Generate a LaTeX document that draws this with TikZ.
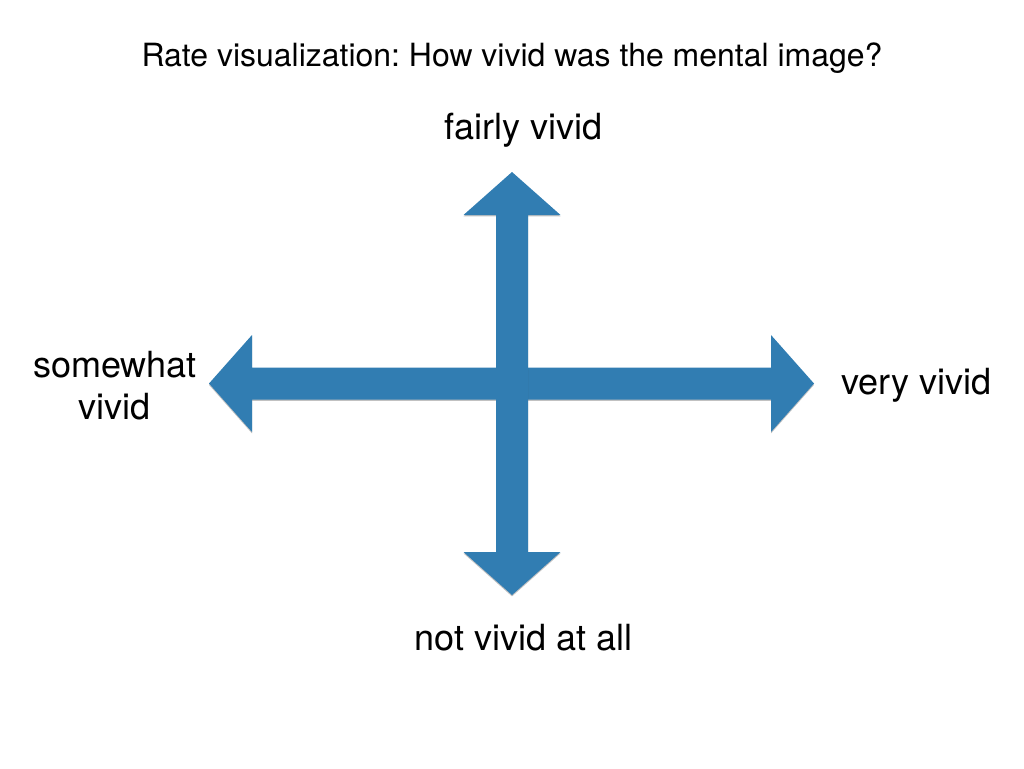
\documentclass[tikz,border=0pt]{standalone}
\usepackage{fontspec}
\setmainfont{TeX Gyre Heros}
\frenchspacing
\usetikzlibrary{shadows,calc}
\definecolor{vividblue}{RGB}{49,125,178}
\tikzset{
  arrowbody/.style={fill=vividblue,draw=none,
    drop shadow={shadow xshift=0pt,shadow yshift=-0.8pt,opacity=0.35,fill=black!70}},
  scalelabel/.style={font=\fontsize{20.5}{23.8}\selectfont,inner sep=0pt,align=center},
  titlelabel/.style={font=\fontsize{18.2}{21}\selectfont,inner sep=0pt}
}
\begin{document}
\begin{tikzpicture}[x=0.02cm,y=-0.02cm]
	\def\cx{512}   % centre of the cross
	\def\cy{383.5}
	\def\sw{16}    % half width of the shaft
	\def\hw{48.5}  % half width of the head
	\def\hl{43}    % length of the head
	\useasboundingbox (0,0) rectangle (1024,768);
	% ends of the two arrows
	\coordinate (left) at (209,\cy);
	\coordinate (right) at (814,\cy);
	\coordinate (top) at (\cx,172);
	\coordinate (bottom) at (\cx,595);
	% horizontal arrow
	\fill[arrowbody] (left) -- ++(\hl,-\hw) -- ++(0,\hw-\sw) -| ($(right)+(-\hl,-\hw)$) -- (right) -- ++(-\hl,\hw) -- ++(0,-\hw+\sw) -| ($(left)+(\hl,\hw)$) -- cycle;
	% vertical arrow
	\fill[arrowbody] (top) -- ++(\hw,\hl) -- ++(-\hw+\sw,0) |- ($(bottom)+(\hw,-\hl)$) -- (bottom) -- ++(-\hw,-\hl) -- ++(\hw-\sw,0) |- ($(top)+(-\hw,\hl)$) -- cycle;
	% labels
	\node[titlelabel] (title) at (512,58) {Rate visualization: How vivid was the mental image?};
	\node[scalelabel] (fairly) at (523.5,130) {fairly vivid};
	\node[scalelabel] (very) at (916.5,385) {very vivid};
	\node[scalelabel] (notvivid) at (523.5,638) {not vivid at all};
	\node[scalelabel] (somewhat) at (115,386) {somewhat\\vivid};
\end{tikzpicture}
\end{document}
